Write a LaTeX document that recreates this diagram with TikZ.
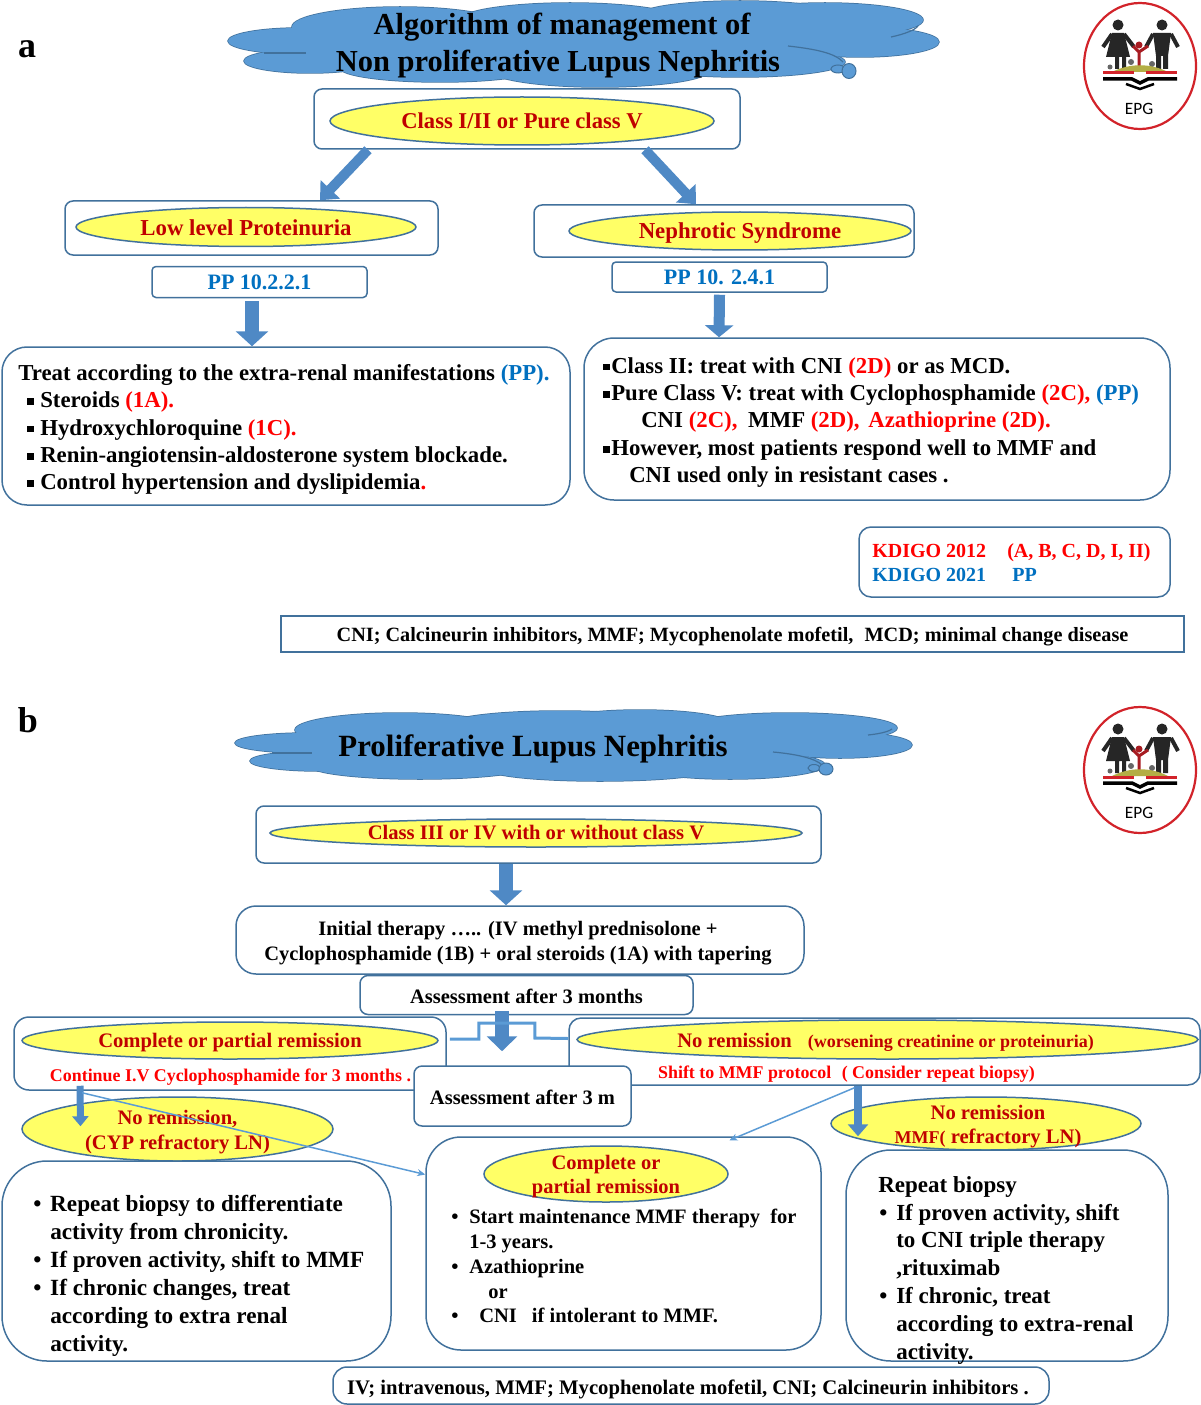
\documentclass[tikz,border=0pt]{standalone}
\usepackage{fontspec}
\usepackage{xcolor}
\setmainfont{Liberation Serif}
\newfontfamily\logofont{Carlito}
\usepackage{tikz}
\usetikzlibrary{shapes.geometric,arrows.meta}

\definecolor{boxblue}{HTML}{41719C}
\definecolor{cloudblue}{HTML}{5B9BD5}
\definecolor{arrowblue}{HTML}{4F89C5}
\definecolor{ovalyellow}{HTML}{FFFF66}
\definecolor{ovalred}{HTML}{C00000}
\definecolor{gradered}{HTML}{FF0000}
\definecolor{ppblue}{HTML}{0070C0}
\definecolor{logored}{HTML}{D2232A}
\definecolor{logograss}{HTML}{B3AE45}

\newlength{\pxu}
\setlength{\pxu}{0.75pt}
\newcommand{\pxfont}[2]{\fontsize{\fpeval{#1*0.75}}{\fpeval{#2*0.75}}\selectfont\bfseries}
\newcommand{\red}[1]{\textcolor{gradered}{#1}}
\newcommand{\ppb}[1]{\textcolor{ppblue}{#1}}
\newcommand{\sqb}{\rule[0.12em]{0.3em}{0.3em}}
\newcommand{\drawcloud}[1]{%
  \foreach \cx/\cy/\rx/\ry in {#1} {\draw[boxblue,line width=1.5*\pxu] (\cx,\cy) ellipse [x radius=\rx, y radius=\ry];}
  \foreach \cx/\cy/\rx/\ry in {#1} {\fill[cloudblue] (\cx,\cy) ellipse [x radius=\rx, y radius=\ry];}
}

\tikzset{
  panel/.style={draw=boxblue,line width=1.5*\pxu,fill=white,rounded corners=#1*\pxu,inner sep=0pt},
  panel/.default=8,
  oval/.style={ellipse,draw=boxblue,line width=1.5*\pxu,fill=ovalyellow,text=ovalred,inner sep=0pt,align=center},
  ovaltext/.style={text=ovalred,inner sep=0pt,align=center},
  plaintext/.style={inner sep=0pt,align=center},
  cloudarc/.style={boxblue,line width=1.2*\pxu},
  blockarrow/.style n args={3}{draw=arrowblue,line width=#1*\pxu,-{Triangle[length=\fpeval{#3*0.75}pt,width=\fpeval{#2*0.75}pt]}},
  thinarrow/.style={draw=cloudblue,line width=1.5*\pxu,-{Stealth[length=6pt,width=5.25pt]}},
  bodytext/.style={anchor=north west,inner sep=0pt,align=left},
  epglogo/.pic={
    \draw[logored,line width=2.2*\pxu,fill=white] (0,0) ellipse [x radius=56, y radius=63];
    % mother and father
    \fill[black!85] (-22,-41) circle (5.5);
    \fill[black!85] (22,-41) circle (5.5);
    \fill[black!85] (-28,-33) -- (-16,-33) -- (-10,-9) -- (-14,-9) -- (-14,3) -- (-18,3) -- (-18,-9) -- (-21,-9) -- (-21,3) -- (-25,3) -- (-25,-9) -- (-34,-9) -- cycle;
    \fill[black!85] (13,-33) -- (31,-33) -- (28,-10) -- (28,3) -- (23,3) -- (23,-10) -- (21,-10) -- (21,3) -- (16,3) -- (16,-10) -- cycle;
    \draw[black!85,line width=4*\pxu] (-28,-32) -- (-37,-19) (-16,-32) -- (-6,-19) (13,-32) -- (6,-19) (31,-32) -- (38,-19);
    % child
    \fill[logored!80!black] (-1,-21) circle (3.5);
    \draw[logored!80!black,line width=3*\pxu] (-7,-20) -- (-1,-14) -- (8,-20) (-1,-15) -- (-1,0);
    % flowers
    \fill[black!60] (-30,1) circle (2.5) (-9,-4) circle (3) (12,-2) circle (3);
    % grass and book
    \fill[logograss] (-28,6) .. controls (-10,-3) and (10,-3) .. (28,6) -- cycle;
    \draw[logored,line width=3*\pxu] (-37,7) -- (-6,7) (6,7) -- (37,7);
    \draw[black,line width=3.5*\pxu] (-37,13) -- (-8,13) -- (0,17) -- (8,13) -- (37,13);
    \draw[black,line width=2.5*\pxu] (-14,18) -- (0,23) -- (14,18);
    \node[inner sep=0pt] (text) at (-1,43) {\logofont\fontsize{13}{15}\selectfont EPG};
  }
}

\begin{document}
\begin{tikzpicture}[x=0.75pt,y=0.75pt,yscale=-1,xscale=1]
\useasboundingbox (0,0) rectangle (1200,1405);

%Part a
\node[inner sep=0pt,font=\pxfont{36}{40}] (parta) at (27,49) {a};
\drawcloud{300/41/72/13,310/61/66/12,400/27/108/20,570/20/110/17,740/15/100/14,825/20/98/17,860/42/79/15,740/62/105/15,600/70/110/17,440/68/100/14,560/42/280/24}
\draw[cloudarc] (788,46) .. controls (815,49) and (835,53) .. (843,62);
\draw[cloudarc] (891,37) .. controls (905,34) and (915,30) .. (918,26);
\draw[cloudarc] (264,53) -- (306,53);
\draw[boxblue,fill=cloudblue,line width=1*\pxu] (838,69) ellipse [x radius=7, y radius=4];
\draw[boxblue,fill=cloudblue,line width=1*\pxu] (849,71) ellipse [x radius=7, y radius=7.5];
\node[plaintext,font=\pxfont{30.5}{37}] (titlea) at (558,46) {\hspace*{8\pxu}Algorithm of management of\\Non proliferative Lupus Nephritis};
\pic[yscale=-1] (logoa) at (1140,66) {epglogo};

\node[panel,minimum width=426*\pxu,minimum height=60*\pxu] (classbox) at (527,119) {};
\node[oval,minimum width=384*\pxu,minimum height=48*\pxu,font=\pxfont{22.6}{26}] (classoval) at (522,121) {Class I/II or Pure class V};
\node[panel,minimum width=373*\pxu,minimum height=54*\pxu] (lowbox) at (251.5,228) {};
\node[oval,minimum width=340*\pxu,minimum height=39*\pxu] (lowoval) at (246,227) {};
\node[ovaltext,font=\pxfont{22.8}{26}] (lowtext) at (246,228) {Low level Proteinuria};
\node[panel,minimum width=380*\pxu,minimum height=52*\pxu] (nephbox) at (724,231) {};
\node[oval,minimum width=342*\pxu,minimum height=38*\pxu] (nephoval) at (740,231) {};
\node[ovaltext,font=\pxfont{22.8}{26}] (nephlabel) at (740,233) {Nephrotic Syndrome};
\node[panel=4,minimum width=215*\pxu,minimum height=31*\pxu,text=ppblue,font=\pxfont{22}{26}] (ppa) at (259.5,282) {PP 10.2.2.1};
\node[panel=4,minimum width=215*\pxu,minimum height=30*\pxu,text=ppblue,font=\pxfont{22}{26}] (ppb) at (719.5,277) {PP 10. 2.4.1};

\node[panel=25,minimum width=568*\pxu,minimum height=158*\pxu] (treatbox) at (286,426) {};
\node[bodytext,font=\pxfont{22.8}{27.4}] (treattext) at (18,364) {Treat according to the extra-renal manifestations \ppb{(PP).}\\
\hspace*{9\pxu}\makebox[13\pxu][l]{\sqb}Steroids \red{(1A).}\\
\hspace*{9\pxu}\makebox[13\pxu][l]{\sqb}Hydroxychloroquine \red{(1C).}\\
\hspace*{9\pxu}\makebox[13\pxu][l]{\sqb}Renin-angiotensin-aldosterone system blockade.\\
\hspace*{9\pxu}\makebox[13\pxu][l]{\sqb}Control hypertension and dyslipidemia\red{.}};

\node[panel=30,minimum width=586*\pxu,minimum height=162*\pxu] (nephtextbox) at (877,419) {};
\node[bodytext,font=\pxfont{22.8}{27.4}] (nephtext) at (603,357) {\makebox[8\pxu][l]{\sqb}Class II: treat with CNI \red{(2D)} or as MCD.\\
\makebox[8\pxu][l]{\sqb}Pure Class V: treat with Cyclophosphamide \red{(2C),} \ppb{(PP)}\\
\hspace*{38\pxu}CNI \red{(2C),}\hspace{5\pxu} MMF \red{(2D),}\hspace{3\pxu} \red{Azathioprine (2D).}\\
\makebox[8\pxu][l]{\sqb}However, most patients respond well to MMF and\\
\hspace*{26\pxu}CNI used only in resistant cases .};

\node[panel=12,minimum width=311*\pxu,minimum height=70*\pxu] (kdigobox) at (1014.5,562) {};
\node[bodytext,font=\pxfont{20}{24}] (kdigotext) at (872,543.5) {\red{\makebox[135\pxu][l]{KDIGO 2012}(A, B, C, D, I, II)}\\
\ppb{\makebox[140\pxu][l]{KDIGO 2021}PP}};
\node[panel=0,minimum width=903*\pxu,minimum height=36*\pxu] (abbrevabox) at (732.5,634) {};
\node[plaintext,font=\pxfont{20.25}{24}] (abbrevatext) at (732.5,637) {CNI; Calcineurin inhibitors, MMF; Mycophenolate mofetil,\hspace{6\pxu} MCD; minimal change disease};

%Part b
\node[inner sep=0pt,font=\pxfont{36}{40}] (partb) at (28,720) {b};
\drawcloud{308/743/73/10,320/761/70/10,400/730/105/17,560/724/110/13,640/724/90/14,790/728/107/15,840/745/72/13,730/765/95/14,600/770/110/11,420/766/110/13,560/745/290/20}
\draw[cloudarc] (773,752) .. controls (795,754) and (815,758) .. (822,765);
\draw[cloudarc] (868,735) .. controls (878,734) and (888,732) .. (892,729);
\draw[cloudarc] (272,753) -- (312,753);
\draw[boxblue,fill=cloudblue,line width=1*\pxu] (814,768) ellipse [x radius=6, y radius=3.5];
\draw[boxblue,fill=cloudblue,line width=1*\pxu] (826,769) ellipse [x radius=7, y radius=6];
\node[inner sep=0pt,font=\pxfont{30.9}{37}] (titleb) at (533,749) {Proliferative Lupus Nephritis};
\pic[yscale=-1] (logob) at (1140,770) {epglogo};

\node[panel,minimum width=565*\pxu,minimum height=57*\pxu] (classbbox) at (538.5,834.5) {};
\node[oval,minimum width=532*\pxu,minimum height=28*\pxu,font=\pxfont{20.6}{26}] (classboval) at (536,833) {Class III or IV with or without class V};
\node[panel=20,minimum width=568*\pxu,minimum height=68*\pxu] (initbox) at (520,940) {};
\node[plaintext,font=\pxfont{20.5}{24.5}] (inittext) at (518,943) {Initial therapy ….. (IV methyl prednisolone +\\Cyclophosphamide (1B) + oral steroids (1A) with tapering};
\node[panel,minimum width=333*\pxu,minimum height=39*\pxu] (assessa) at (526.5,995) {};
\node[plaintext,font=\pxfont{20.5}{24}] (assessatext) at (526.5,996) {Assessment after 3 months};

\node[panel=15,minimum width=432*\pxu,minimum height=73*\pxu] (compbox) at (230,1053.5) {};
\node[oval,minimum width=416*\pxu,minimum height=37*\pxu] (compoval) at (230,1040.5) {};
\node[ovaltext,font=\pxfont{20.6}{26}] (compname) at (230,1043) {Complete or partial remission};
\node[inner sep=0pt,text=gradered,font=\pxfont{17.9}{22}] (comptext) at (230.5,1077) {Continue I.V Cyclophosphamide for 3 months .};
\node[panel=12,minimum width=631*\pxu,minimum height=67*\pxu] (noremitbox) at (884.5,1051.5) {};
\node[oval,minimum width=621*\pxu,minimum height=39*\pxu] (noremitoval) at (887.5,1039.5) {};
\node[ovaltext,font=\pxfont{20.6}{26}] (noremitname) at (885.5,1042) {No remission\hspace{16\pxu}{\pxfont{18}{26}(worsening creatinine or proteinuria)}};
\node[inner sep=0pt,text=gradered,font=\pxfont{17.9}{22}] (noremittext) at (846.5,1074) {Shift to MMF protocol\hspace{6\pxu} ( Consider repeat biopsy)};
\node[panel,minimum width=217*\pxu,minimum height=60*\pxu] (assessb) at (522.5,1096) {};
\node[plaintext,font=\pxfont{20.5}{24}] (assessbtext) at (522.5,1097) {Assessment after 3 m};

\node[oval,minimum width=311*\pxu,minimum height=64*\pxu] (cypoval) at (177.5,1129) {};
\node[ovaltext,font=\pxfont{20.6}{24.5}] (cyptext) at (177.5,1132) {No remission,\\(CYP refractory LN)};
\node[oval,minimum width=310*\pxu,minimum height=53*\pxu] (mmfoval) at (986,1123.5) {};
\node[ovaltext,font=\pxfont{20.6}{24.5}] (mmftext) at (988,1126.5) {No remission\\{\pxfont{18}{24.5}MMF(} refractory LN)};

\node[panel=45,minimum width=389*\pxu,minimum height=200*\pxu] (biopsyabox) at (196.5,1261) {};
\node[bodytext,font=\pxfont{23.2}{28}] (biopsyatext) at (33,1194.5) {\makebox[17\pxu][l]{\textbullet}Repeat biopsy to differentiate\\
\hspace*{17\pxu}activity from chronicity.\\
\makebox[17\pxu][l]{\textbullet}If proven activity, shift to MMF\\
\makebox[17\pxu][l]{\textbullet}If chronic changes, treat\\
\hspace*{17\pxu}according to extra renal\\
\hspace*{17\pxu}activity.};

\node[panel=35,minimum width=395*\pxu,minimum height=213*\pxu] (maintbox) at (623.5,1243.5) {};
\node[oval,minimum width=244*\pxu,minimum height=56*\pxu] (maintoval) at (606,1174) {};
\node[ovaltext,font=\pxfont{20.5}{24}] (maintname) at (606,1177) {Complete or\\partial remission};
\node[bodytext,font=\pxfont{20.5}{24.8}] (mainttext) at (451,1209) {\makebox[18\pxu][l]{\textbullet}Start maintenance MMF therapy\hspace{5\pxu} for\\
\hspace*{18\pxu}1-3 years.\\
\makebox[18\pxu][l]{\textbullet}Azathioprine\\
\hspace*{37\pxu}or\\
\makebox[28\pxu][l]{\textbullet}CNI\hspace{10\pxu} if intolerant to MMF.};

\node[panel=45,minimum width=322*\pxu,minimum height=211*\pxu] (biopsybbox) at (1007,1255.5) {};
\node[bodytext,font=\pxfont{23}{27.8}] (biopsybtext) at (878,1176) {Repeat biopsy\\
\makebox[18\pxu][l]{\hspace{1\pxu}\textbullet}If proven activity, shift\\
\hspace*{18\pxu}to CNI triple therapy\\
\hspace*{18\pxu},rituximab\\
\makebox[18\pxu][l]{\hspace{1\pxu}\textbullet}If chronic, treat\\
\hspace*{18\pxu}according to extra-renal\\
\hspace*{18\pxu}activity.};

\node[panel=14,minimum width=716*\pxu,minimum height=37*\pxu] (abbrevbbox) at (691,1385.5) {};
\node[plaintext,font=\pxfont{20.7}{24}] (abbrevbtext) at (688,1389.5) {IV; intravenous, MMF; Mycophenolate mofetil, CNI; Calcineurin inhibitors .};

%Connectors
\draw[blockarrow={10}{26}{15}] ([xshift=-159*\pxu]classbox.south) -- ([xshift=68.5*\pxu]lowbox.north);
\draw[blockarrow={10}{26}{15}] ([xshift=118*\pxu]classbox.south) -- ([xshift=-28*\pxu]nephbox.north);
\draw[blockarrow={14}{32}{15}] ([xshift=-7.5*\pxu,yshift=3*\pxu]ppa.south) -- ([xshift=-34*\pxu]treatbox.north);
\draw[blockarrow={11}{28}{12}] ([yshift=2*\pxu]ppb.south) -- ([xshift=-158*\pxu]nephtextbox.north);
\draw[blockarrow={14}{32}{15}] ([xshift=-32.5*\pxu]classbbox.south) -- ([xshift=-14*\pxu]initbox.north);
\draw[blockarrow={14}{30}{15}] ([xshift=-24.5*\pxu,yshift=-4*\pxu]assessa.south) -- ([xshift=-20.5*\pxu,yshift=-14*\pxu]assessb.north);
\draw[cloudblue,line width=3*\pxu] ([xshift=3*\pxu,yshift=-14.5*\pxu]compbox.east) -- ++(29,0) -- ++(0,-16) -- ++(56,0) -- ++(0,15) -- ([yshift=-13*\pxu]noremitbox.west);
\draw[blockarrow={7}{16}{10}] ([xshift=-150*\pxu,yshift=-5*\pxu]compbox.south) -- ([xshift=-97*\pxu,yshift=30*\pxu]cypoval.north);
\draw[blockarrow={8}{20}{12}] ([xshift=-26.5*\pxu]noremitbox.south) -- ([xshift=-128*\pxu,yshift=40*\pxu]mmfoval.north);
\draw[thinarrow] ([xshift=-148*\pxu,yshift=2*\pxu]compbox.south) -- ([yshift=-69*\pxu]maintbox.west);
\draw[thinarrow] ([xshift=-30*\pxu,yshift=2*\pxu]noremitbox.south) -- ([xshift=106*\pxu,yshift=4*\pxu]maintbox.north);
\end{tikzpicture}
\end{document}
